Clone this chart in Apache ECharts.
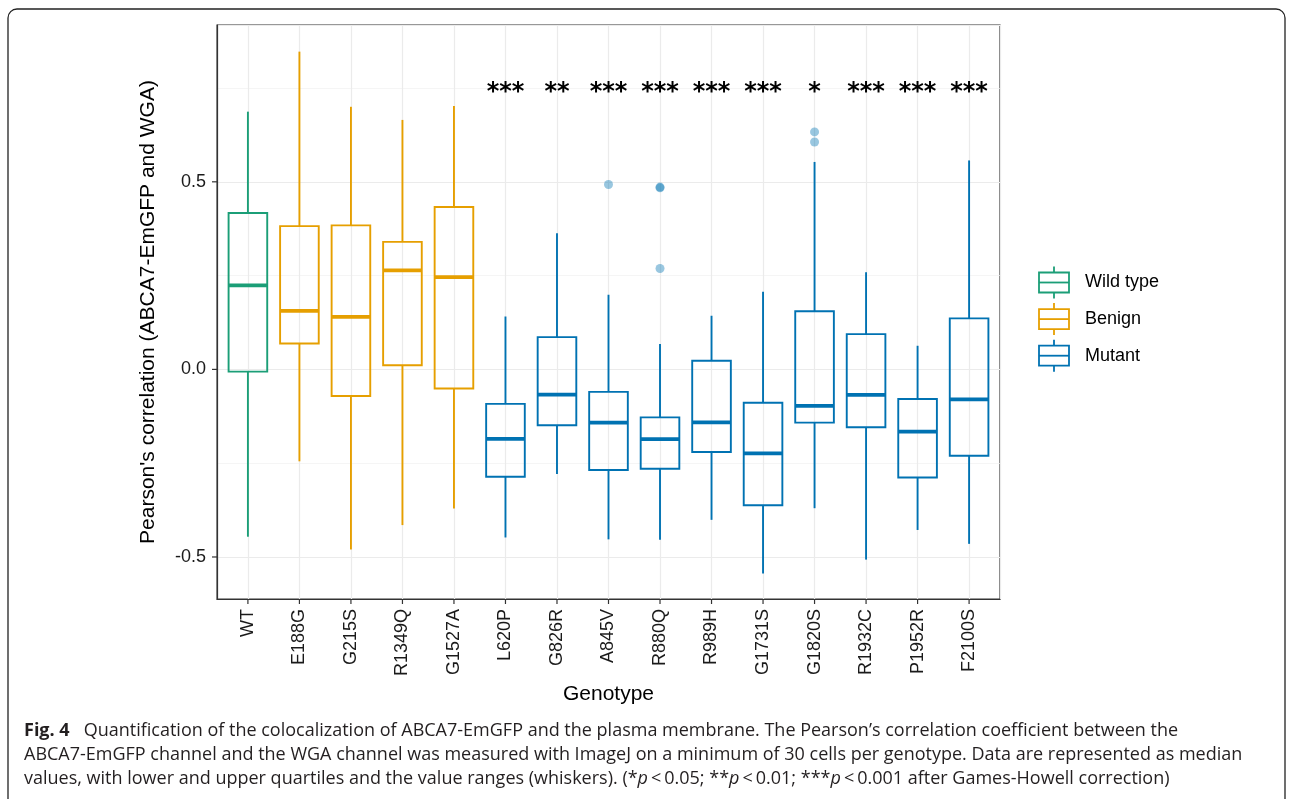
<!DOCTYPE html>
<html><head><meta charset="utf-8">
<script src="https://cdn.jsdelivr.net/npm/echarts@6/dist/echarts.min.js"></script>
<style>html,body{margin:0;padding:0;background:#fff}#c{width:1290px;height:799px}</style>
</head><body><div id="c"></div>
<script>
const categories = ['WT','E188G','G215S','R1349Q','G1527A','L620P','G826R','A845V','R880Q','R989H','G1731S','G1820S','R1932C','P1952R','F2100S'];
const groups = ['Wild type','Benign','Benign','Benign','Benign','Mutant','Mutant','Mutant','Mutant','Mutant','Mutant','Mutant','Mutant','Mutant','Mutant'];
const whiskerLow    = [-0.446,-0.245,-0.480,-0.415,-0.371,-0.448,-0.279,-0.453,-0.454,-0.401,-0.544,-0.370,-0.507,-0.428,-0.465];
const lowerQuartile = [-0.006, 0.069,-0.071, 0.011,-0.051,-0.286,-0.149,-0.268,-0.265,-0.220,-0.362,-0.142,-0.154,-0.288,-0.230];
const medians       = [ 0.224, 0.156, 0.140, 0.264, 0.246,-0.185,-0.067,-0.142,-0.186,-0.141,-0.224,-0.097,-0.068,-0.166,-0.080];
const upperQuartile = [ 0.417, 0.382, 0.384, 0.340, 0.433,-0.092, 0.086,-0.060,-0.128, 0.023,-0.089, 0.155, 0.094,-0.079, 0.136];
const whiskerHigh   = [ 0.687, 0.847, 0.700, 0.665, 0.702, 0.141, 0.363, 0.199, 0.068, 0.143, 0.207, 0.553, 0.259, 0.063, 0.557];
const outlierCategories = ['A845V','R880Q','R880Q','R880Q','G1820S','G1820S'];
const outlierValues     = [0.493, 0.486, 0.484, 0.269, 0.633, 0.606];
const significance = ['','','','','','***','**','***','***','***','***','*','***','***','***'];
const significanceLevel = 0.75;
const yTicks = [-0.5, 0, 0.5];
const legendNames = ['Wild type','Benign','Mutant'];
const xRange = [-0.6, 14.6];
const yRange = [-0.612, 0.918];

const groupColors = {'Wild type':'#1B9E77','Benign':'#E69F00','Mutant':'#0072B2'};
const FONT = '"Liberation Sans", Arial, Helvetica, sans-serif';

const boxData = categories.map((c, i) => [i, whiskerLow[i], lowerQuartile[i], medians[i], upperQuartile[i], whiskerHigh[i], legendNames.indexOf(groups[i])]);
const outlierData = outlierCategories.map((c, k) => [categories.indexOf(c), outlierValues[k]]);
const sigData = categories.map((c, i) => [i, significanceLevel, significance[i]]).filter(d => d[2]);
const tickData = categories.map((c, i) => [i, yRange[0], 0]).concat(yTicks.map(v => [xRange[0], v, 1]));

const chart = echarts.init(document.getElementById('c'), null, {renderer: 'canvas'});

const legendGraphics = legendNames.map((name, i) => {
  const cy = 282.5 + i * 36.6;
  const col = groupColors[name];
  const ls = {stroke: col, lineWidth: 1.8, fill: null};
  return {
    type: 'group', x: 1054, y: cy,
    children: [
      {type: 'line', shape: {x1: 0, y1: -16, x2: 0, y2: -10}, style: ls},
      {type: 'line', shape: {x1: 0, y1: 10, x2: 0, y2: 16}, style: ls},
      {type: 'rect', shape: {x: -15, y: -10, width: 30, height: 20}, style: {stroke: col, lineWidth: 1.8, fill: '#fff'}},
      {type: 'line', shape: {x1: -15, y1: 0, x2: 15, y2: 0}, style: ls},
      {type: 'text', x: 31, y: 0, style: {text: name, fontFamily: FONT, fontSize: 18, fill: '#000', textVerticalAlign: 'middle', verticalAlign: 'middle'}}
    ]
  };
});

const CAPF = '"Open Sans", "Noto Sans", sans-serif';
const captionLines = [
  '{b|Fig. 4}   Quantification of the colocalization of ABCA7-EmGFP and the plasma membrane. The Pearson\u2019s correlation coefficient between the',
  'ABCA7-EmGFP channel and the WGA channel was measured with ImageJ on a minimum of 30 cells per genotype. Data are represented as median',
  'values, with lower and upper quartiles and the value ranges (whiskers). (*{i|p}\u2009<\u20090.05; **{i|p}\u2009<\u20090.01; ***{i|p}\u2009<\u20090.001 after Games-Howell correction)'
];
const captionGraphics = captionLines.map((t, i) => ({
  type: 'text', x: 24, y: 731 + i * 24,
  style: {
    text: t, fontFamily: CAPF, fontSize: 18, fill: '#231f20', verticalAlign: 'middle', textVerticalAlign: 'middle',
    rich: {
      b: {fontFamily: CAPF, fontSize: 18, fontWeight: 'bold', fill: '#231f20'},
      i: {fontFamily: CAPF, fontSize: 18, fontStyle: 'italic', fill: '#231f20'}
    }
  }
}));

const option = {
  animation: false,
  backgroundColor: '#fff',
  grid: {left: 217, top: 25, width: 783, height: 574, show: true, borderColor: '#333', borderWidth: 1.2, backgroundColor: 'transparent', containLabel: false},
  xAxis: {
    type: 'value', min: xRange[0], max: xRange[1], splitNumber: 15, position: 'bottom',
    name: 'Genotype', nameLocation: 'middle', nameGap: 85,
    nameTextStyle: {fontFamily: FONT, fontSize: 21, color: '#000'},
    axisLine: {show: true, onZero: false, lineStyle: {color: '#333', width: 1.2}},
    axisTick: {show: false},
    axisLabel: {show: true, rotate: 90, margin: 10, fontFamily: FONT, fontSize: 18, color: '#1a1a1a',
      customValues: categories.map((c, i) => i),
      formatter: v => categories[Math.round(v)] || ''},
    splitLine: {show: true, lineStyle: {color: '#ebebeb', width: 1.2}},
    minorSplitLine: {show: false}
  },
  yAxis: {
    type: 'value', min: yRange[0], max: yRange[1], splitNumber: 3, position: 'left',
    name: "Pearson's correlation (ABCA7-EmGFP and WGA)", nameLocation: 'middle', nameGap: 58,
    nameTextStyle: {fontFamily: FONT, fontSize: 21, color: '#000'},
    axisLine: {show: true, onZero: false, lineStyle: {color: '#333', width: 1.2}},
    axisTick: {show: false},
    axisLabel: {show: true, margin: 11, fontFamily: FONT, fontSize: 18, color: '#1a1a1a', customValues: yTicks,
      formatter: v => Number(v).toFixed(1)},
    splitLine: {show: true, lineStyle: {color: '#ebebeb', width: 1.2}},
    minorTick: {show: false, splitNumber: 2},
    minorSplitLine: {show: true, lineStyle: {color: '#f0f0f0', width: 0.7}}
  },
  series: [
    {
      type: 'custom', name: 'boxes',
      data: boxData,
      encode: {x: 0, y: [1, 2, 3, 4, 5]},
      z: 3,
      renderItem: (params, api) => {
        const x = api.value(0);
        const col = groupColors[legendNames[api.value(6)]];
        const pLo = api.coord([x, api.value(1)]);
        const pQ1 = api.coord([x, api.value(2)]);
        const pMed = api.coord([x, api.value(3)]);
        const pQ3 = api.coord([x, api.value(4)]);
        const pHi = api.coord([x, api.value(5)]);
        const hw = api.size([0.75, 0])[0] / 2;
        const ls = {stroke: col, lineWidth: 1.9, fill: null};
        return {
          type: 'group',
          children: [
            {type: 'line', shape: {x1: pHi[0], y1: pHi[1], x2: pQ3[0], y2: pQ3[1]}, style: ls},
            {type: 'line', shape: {x1: pQ1[0], y1: pQ1[1], x2: pLo[0], y2: pLo[1]}, style: ls},
            {type: 'rect', shape: {x: pQ3[0] - hw, y: pQ3[1], width: hw * 2, height: pQ1[1] - pQ3[1]}, style: {stroke: col, lineWidth: 1.9, fill: 'rgba(255,255,255,0)'}},
            {type: 'line', shape: {x1: pMed[0] - hw, y1: pMed[1], x2: pMed[0] + hw, y2: pMed[1]}, style: {stroke: col, lineWidth: 3.8}}
          ]
        };
      }
    },
    {
      type: 'scatter', name: 'outliers', data: outlierData, symbol: 'circle', symbolSize: 9, z: 4,
      itemStyle: {color: 'rgba(0,114,178,0.5)', borderWidth: 0}
    },
    {
      type: 'custom', name: 'significance', data: sigData, z: 5,
      encode: {x: 0, y: 1},
      renderItem: (params, api) => {
        const p = api.coord([api.value(0), api.value(1)]);
        return {
          type: 'text', x: p[0], y: p[1] + 5,
          style: {text: sigData[params.dataIndex][2], fontFamily: '"DejaVu Sans", sans-serif', fontSize: 24, fontWeight: 'bold', fill: '#000',
            textAlign: 'center', align: 'center', textVerticalAlign: 'middle', verticalAlign: 'middle'}
        };
      }
    },
    {
      type: 'custom', name: 'axisTicks', data: tickData, z: 6, clip: false, silent: true,
      encode: {x: 0, y: 1},
      renderItem: (params, api) => {
        const p = api.coord([api.value(0), api.value(1)]);
        const vertical = api.value(2) === 0;
        const shape = vertical ? {x1: p[0], y1: p[1], x2: p[0], y2: p[1] + 5} : {x1: p[0] - 5, y1: p[1], x2: p[0], y2: p[1]};
        return {type: 'line', shape, style: {stroke: '#333', lineWidth: 1.2}};
      }
    }
  ],
  graphic: [
    {type: 'rect', shape: {x: 8, y: 9, width: 1277, height: 810, r: 9}, style: {stroke: '#222', lineWidth: 1.3, fill: null}, z: -1, silent: true},
    ...legendGraphics,
    ...captionGraphics
  ]
};
chart.setOption(option);
</script></body></html>
